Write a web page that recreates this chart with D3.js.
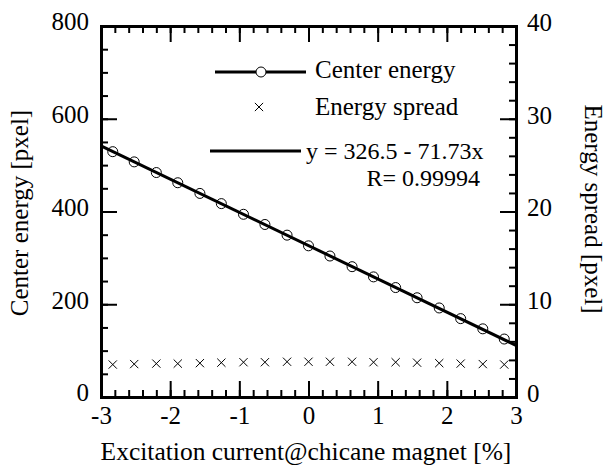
<!DOCTYPE html>
<html>
<head>
<meta charset="utf-8">
<script src="https://cdn.jsdelivr.net/npm/d3@7"></script>
<style>
  body { margin: 0; background: #fff; }
  text { font-family: "Liberation Serif", "Times New Roman", serif; fill: #000; }
</style>
</head>
<body>
<script>
// excitation current [%]
var current = [-2.83, -2.52, -2.20, -1.89, -1.57, -1.26, -0.94, -0.63, -0.31, 0,
               0.31, 0.63, 0.94, 1.26, 1.57, 1.89, 2.20, 2.52, 2.83];
// center energy [pxel] (left axis)
var centerEnergy = [529, 507, 484, 462, 439, 417, 394, 372, 349, 326,
                    304, 281, 259, 236, 214, 192, 169, 147, 125];
// energy spread [pxel] (right axis)
var energySpread = [3.5, 3.55, 3.6, 3.6, 3.65, 3.7, 3.75, 3.75, 3.8, 3.8,
                    3.8, 3.8, 3.75, 3.75, 3.7, 3.65, 3.6, 3.55, 3.5];
// linear fit
var fitA = 326.5, fitB = -71.73;

var xTicks = [-3, -2, -1, 0, 1, 2, 3];
var yLeftTicks = [0, 200, 400, 600, 800];
var yRightTicks = [0, 10, 20, 30, 40];

var margin = {top: 26, right: 90, bottom: 70, left: 101},
    width = 606 - margin.left - margin.right,
    height = 467 - margin.top - margin.bottom;

var x = d3.scaleLinear().domain([-3, 3]).range([0, width]),
    yL = d3.scaleLinear().domain([0, 800]).range([height, 0]),
    yR = d3.scaleLinear().domain([0, 40]).range([height, 0]);

var svg = d3.select("body").append("svg")
    .attr("width", 606)
    .attr("height", 467);

var g = svg.append("g")
    .attr("transform", "translate(" + margin.left + "," + margin.top + ")");

var MAJ = 16, MIN = 7, FS = "25px";
var xMinor = d3.range(-3, 3.001, 0.2).map(function(v) { return +v.toFixed(1); });
var yLMinor = d3.range(0, 801, 50);
var yRMinor = d3.range(0, 41, 2);

function styleAxis(sel) {
  sel.selectAll("path").attr("stroke", "#000").attr("stroke-width", 3);
  sel.selectAll("line").attr("stroke", "#000").attr("stroke-width", 2);
  sel.selectAll("text").style("font-size", FS);
}

// minor ticks
g.append("g").attr("transform", "translate(0," + height + ")")
    .call(d3.axisBottom(x).tickValues(xMinor).tickSize(-MIN).tickFormat(""))
    .call(styleAxis);
g.append("g")
    .call(d3.axisTop(x).tickValues(xMinor).tickSize(-MIN).tickFormat(""))
    .call(styleAxis);
g.append("g")
    .call(d3.axisLeft(yL).tickValues(yLMinor).tickSize(-MIN).tickFormat(""))
    .call(styleAxis);
g.append("g").attr("transform", "translate(" + width + ",0)")
    .call(d3.axisRight(yR).tickValues(yRMinor).tickSize(-MIN).tickFormat(""))
    .call(styleAxis);

// major ticks with labels
var plain = function(d) { return String(d); };
g.append("g").attr("transform", "translate(0," + height + ")")
    .call(d3.axisBottom(x).tickValues(xTicks).tickSizeInner(-MAJ).tickSizeOuter(0).tickPadding(9).tickFormat(plain))
    .call(styleAxis);
g.append("g")
    .call(d3.axisTop(x).tickValues(xTicks).tickSizeInner(-MAJ).tickSizeOuter(0).tickFormat(""))
    .call(styleAxis);
g.append("g")
    .call(d3.axisLeft(yL).tickValues(yLeftTicks).tickSizeInner(-MAJ).tickSizeOuter(0).tickPadding(12).tickFormat(plain))
    .call(styleAxis)
    .selectAll("text").attr("dy", "0.15em");
g.append("g").attr("transform", "translate(" + width + ",0)")
    .call(d3.axisRight(yR).tickValues(yRightTicks).tickSizeInner(-MAJ).tickSizeOuter(0).tickPadding(11).tickFormat(plain))
    .call(styleAxis)
    .selectAll("text").attr("dy", "0.17em");

// fit line
var fitLine = d3.line()
    .x(function(d) { return x(d); })
    .y(function(d) { return yL(fitA + fitB * d); });
g.append("path")
    .datum([-3, 3])
    .attr("d", fitLine)
    .attr("fill", "none")
    .attr("stroke", "#000")
    .attr("stroke-width", 3);

// center energy circles
g.selectAll(".dot")
    .data(current)
  .enter().append("circle")
    .attr("class", "dot")
    .attr("cx", function(d) { return x(d); })
    .attr("cy", function(d, i) { return yL(centerEnergy[i]); })
    .attr("r", 5)
    .attr("fill", "none")
    .attr("stroke", "#000")
    .attr("stroke-width", 1);

// energy spread crosses
var cross = d3.symbol().type(d3.symbolTimes).size(46);
g.selectAll(".cross")
    .data(current)
  .enter().append("path")
    .attr("class", "cross")
    .attr("transform", function(d, i) { return "translate(" + x(d) + "," + yR(energySpread[i]) + ")"; })
    .attr("d", cross)
    .attr("fill", "none")
    .attr("stroke", "#000")
    .attr("stroke-width", 1);

// legend
var lg = svg.append("g");
lg.append("line").attr("x1", 215).attr("x2", 306).attr("y1", 72).attr("y2", 72)
    .attr("stroke", "#000").attr("stroke-width", 3);
lg.append("circle").attr("cx", 261).attr("cy", 72).attr("r", 5)
    .attr("fill", "#fff").attr("stroke", "#000").attr("stroke-width", 1);
lg.append("text").attr("x", 315).attr("y", 77.5).style("font-size", FS).text("Center energy");

lg.append("path").attr("transform", "translate(259,107)").attr("d", cross)
    .attr("fill", "none").attr("stroke", "#000").attr("stroke-width", 1);
lg.append("text").attr("x", 315).attr("y", 115).style("font-size", FS).text("Energy spread");

lg.append("line").attr("x1", 210).attr("x2", 301).attr("y1", 151).attr("y2", 151)
    .attr("stroke", "#000").attr("stroke-width", 3);
lg.append("text").attr("x", 306).attr("y", 159).style("font-size", "24px").text("y = 326.5 - 71.73x");
lg.append("text").attr("x", 480).attr("y", 186).attr("text-anchor", "end")
    .style("font-size", "24px").text("R= 0.99994");

// axis titles
svg.append("text")
    .attr("transform", "translate(27.5,213) rotate(-90)")
    .attr("text-anchor", "middle")
    .style("font-size", FS)
    .text("Center energy [pxel]");
svg.append("text")
    .attr("transform", "translate(585,209) rotate(90)")
    .attr("text-anchor", "middle")
    .style("font-size", FS)
    .text("Energy spread [pxel]");
svg.append("text")
    .attr("x", 306)
    .attr("y", 460)
    .attr("text-anchor", "middle")
    .style("font-size", "25.5px")
    .text("Excitation current@chicane magnet [%]");
</script>
</body>
</html>
